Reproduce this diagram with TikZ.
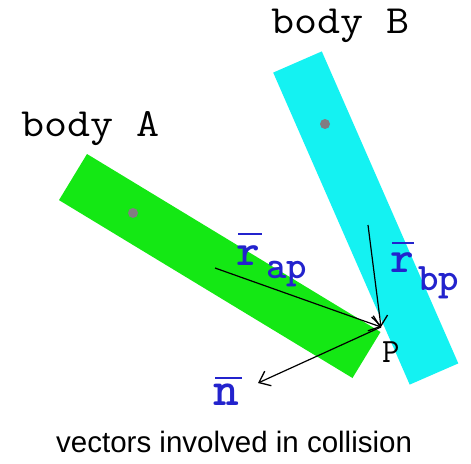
\documentclass[tikz,border=0pt]{standalone}
\usepackage{fontspec}
\newfontfamily\sansfnt{Liberation Sans}
\usetikzlibrary{arrows.meta}
\definecolor{bodyA}{RGB}{20,232,20}
\definecolor{bodyB}{RGB}{20,242,242}
\definecolor{lblue}{RGB}{35,35,205}
\definecolor{dotgray}{RGB}{130,125,130}
\tikzset{
  txt/.style={inner sep=0pt, anchor=base west},
  bodylabel/.style={txt, font=\ttfamily\fontsize{40}{42}\selectfont},
  vecmain/.style={txt, text=lblue, font=\ttfamily\bfseries\fontsize{45}{47}\selectfont},
  vecsub/.style={txt, text=lblue, font=\ttfamily\bfseries\fontsize{39}{41}\selectfont},
  vecbar/.style={draw=lblue, line width=2.2pt},
  vec/.style={draw=black, line width=1.2pt, -{Straight Barb[length=10pt,width=16pt,line width=1.3pt]}},
  cdot/.style={circle, fill=dotgray, minimum size=10pt, inner sep=0pt},
}
\begin{document}
\begin{tikzpicture}[x=1pt,y=-1pt]
\useasboundingbox (0,0) rectangle (471,463);
% bodies
\fill[bodyA] (87,154) -- (380.5,332) -- (352.5,378) -- (59,200.1) -- cycle;
\fill[bodyB] (273.2,72.6) -- (321.8,51.4) -- (458.3,363.4) -- (409.7,384.6) -- cycle;
\node[cdot] (cA) at (133,213) {};
\node[cdot] (cB) at (325,124) {};
% labels
\node[bodylabel] (labA) at (21,136) {\scalebox{1.12}[1]{body A}};
\node[bodylabel] (labB) at (271,33) {\scalebox{1.12}[1]{body B}};
% points
\coordinate (ap) at (215,268);
\coordinate (bp) at (368,225);
\coordinate (P) at (381,327);
\coordinate (nend) at (258,383);
\draw[vec] (ap) -- (P);
\draw[vec] (bp) -- (P);
\draw[vec] (P) -- (nend);
\node[txt, font=\ttfamily\fontsize{34}{36}\selectfont] (labP) at (382,362) {P};
% vector labels
\node[vecmain] (rap) at (236,265) {r};
\node[vecsub] (rapsub) at (266,278) {ap};
\draw[vecbar] (238,234) -- (262,234);
\node[vecmain] (rbp) at (390,272) {r};
\node[vecsub] (rbpsub) at (418,290) {bp};
\draw[vecbar] (392,243) -- (414,243);
\node[vecmain, font=\ttfamily\bfseries\fontsize{49}{51}\selectfont] (nlab) at (213,405) {n};
\draw[vecbar] (215,378) -- (242,378);
% caption
\node[txt, font=\sansfnt\fontsize{29.5}{32}\selectfont] (cap) at (56,452) {vectors involved in collision};
\end{tikzpicture}
\end{document}
